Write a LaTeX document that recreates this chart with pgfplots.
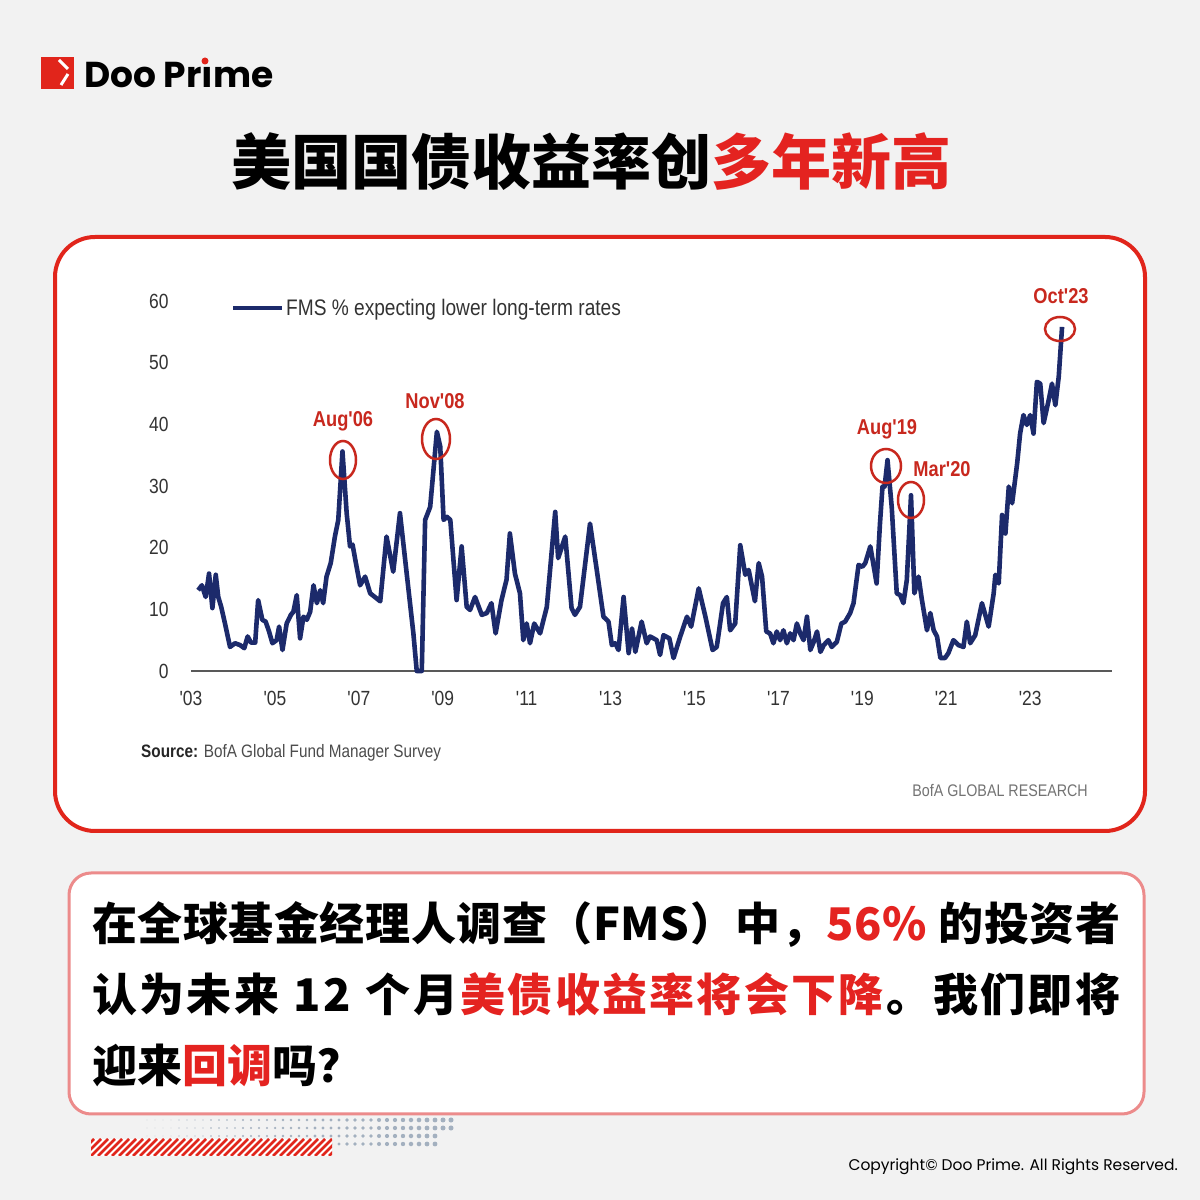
\documentclass[border=0pt]{standalone}
\usepackage{pgfplots}
\pgfplotsset{compat=1.18}
\usepackage{fontspec}
\setmainfont{Liberation Sans}
\newfontfamily\cjk{Noto Sans CJK SC}
\newfontfamily\narrow{Liberation Sans}[FakeStretch=0.85]
\newfontfamily\pop{Poppins}
\definecolor{bg}{HTML}{F2F2F2}
\definecolor{tred}{HTML}{E42320}
\definecolor{cred}{HTML}{E1251B}
\definecolor{ared}{HTML}{C8281E}
\definecolor{pinkb}{HTML}{EC8B8B}
\definecolor{navy}{HTML}{1C2A6B}
\definecolor{dots}{HTML}{A3B0BF}
\def\sprend{\sprend}
\def\spr#1{\ifx#1\sprend\else#1\hskip0pt plus 1fil\relax\expandafter\spr\fi}
\begin{document}
\begin{tikzpicture}
\begin{scope}[x=1pt,y=1pt]
\useasboundingbox (0,0) rectangle (1200,1200);
\fill[bg] (0,0) rectangle (1200,1200);
% logo
\fill[cred] (41,1111) rectangle (74,1143);
\draw[white, line width=3pt] (59,1140) -- (68,1131);
\draw[white, line width=3pt] (68,1126) -- (61,1115);
\node[anchor=base west, inner sep=0pt] at (84,1112) {\pop\bfseries\fontsize{36}{36}\selectfont Doo Pr\char"0131 me};
% title
\node[anchor=base, inner sep=0pt] at (591,1015) {\cjk\bfseries\fontsize{60}{60}\selectfont 美国国债收益率创\textcolor{tred}{多年新高}};
% chart card
\filldraw[fill=white, draw=cred, line width=4pt, rounded corners=40pt] (55,369) rectangle (1145,963);
\end{scope}
\begin{axis}[
 at={(191pt,529pt)}, anchor=south west,
 width=921pt, height=370pt, scale only axis,
 xmin=2003, xmax=2024.95, ymin=0, ymax=60,
 clip=false,
 axis x line*=bottom, axis y line*=left,
 y axis line style={draw=none},
 x axis line style={draw=black!65, line width=1.6pt},
 major tick length=0pt,
 xtick={2003,2005,...,2023},
 xticklabels={'03,'05,'07,'09,'11,'13,'15,'17,'19,'21,'23},
 ytick={0,10,...,60},
 tick label style={font=\narrow\fontsize{20.5}{21}\selectfont, text=black!80},
 /pgf/number format/assume math mode=true,
 x tick label style={yshift=-17pt},
 y tick label style={xshift=-19pt},
 legend style={at={(0.0434,0.981)}, anchor=west, draw=none, fill=none, inner sep=0pt,
   font=\narrow\fontsize{22.5}{23}\selectfont, text=black!80},
 legend image code/.code={\draw[#1, line width=4pt] (0pt,0pt) -- (49pt,0pt);},
]
\addplot[navy, line width=4.6pt, line join=round] table {
x y
2003.17 13.1
2003.26 13.9
2003.35 12.0
2003.43 15.8
2003.51 10.2
2003.59 15.6
2003.65 12.0
2003.72 10.4
2003.81 7.7
2003.93 3.9
2004.05 4.5
2004.17 4.2
2004.27 3.7
2004.35 5.6
2004.43 4.6
2004.53 4.6
2004.60 11.5
2004.70 8.3
2004.78 8.0
2004.86 6.4
2004.94 4.5
2005.04 5.0
2005.10 7.2
2005.18 3.4
2005.28 7.7
2005.38 9.1
2005.44 9.6
2005.52 12.3
2005.60 5.3
2005.68 8.8
2005.76 8.3
2005.84 9.6
2005.92 13.9
2006.00 11.0
2006.08 13.1
2006.15 11.0
2006.23 15.3
2006.33 17.5
2006.43 21.8
2006.51 24.5
2006.61 35.6
2006.71 25.6
2006.79 20.2
2006.85 20.5
2006.93 17.5
2007.03 13.9
2007.15 15.3
2007.27 12.6
2007.51 11.3
2007.66 21.8
2007.82 16.1
2007.98 25.6
2008.30 6.1
2008.38 0
2008.50 0
2008.58 24.5
2008.70 26.6
2008.86 38.8
2008.94 36.4
2009.02 24.5
2009.10 25.0
2009.18 24.5
2009.33 11.5
2009.45 20.2
2009.57 10.4
2009.65 9.9
2009.77 12.0
2009.93 9.1
2010.05 9.4
2010.16 11.0
2010.26 6.1
2010.40 11.5
2010.52 14.8
2010.60 22.3
2010.72 15.8
2010.84 12.6
2010.92 5.0
2011.00 7.7
2011.08 4.5
2011.18 7.7
2011.32 6.1
2011.48 10.4
2011.68 25.8
2011.75 18.3
2011.92 21.8
2012.07 10.2
2012.15 9.1
2012.27 10.4
2012.51 23.9
2012.67 16.4
2012.83 8.8
2012.95 8.0
2013.03 4.2
2013.11 4.5
2013.19 3.4
2013.31 12.0
2013.43 2.9
2013.51 6.9
2013.59 3.1
2013.74 8.0
2013.86 4.5
2013.94 5.6
2014.10 5.0
2014.18 2.6
2014.26 5.8
2014.40 5.3
2014.50 2.1
2014.66 5.6
2014.82 8.8
2014.92 7.2
2015.10 13.4
2015.26 8.8
2015.43 3.4
2015.53 3.9
2015.68 11.0
2015.77 12.0
2015.85 6.6
2015.97 7.7
2016.09 20.4
2016.21 15.6
2016.29 16.4
2016.44 11.3
2016.53 17.5
2016.61 15.3
2016.71 6.4
2016.80 6.1
2016.88 4.5
2016.96 6.4
2017.04 5.0
2017.12 6.6
2017.20 4.5
2017.28 6.1
2017.36 5.0
2017.44 7.7
2017.52 6.1
2017.60 5.0
2017.68 8.8
2017.76 3.4
2017.84 4.7
2017.92 6.4
2018.00 3.1
2018.08 4.2
2018.19 5.0
2018.27 3.9
2018.39 4.7
2018.50 7.7
2018.59 8.0
2018.71 9.4
2018.79 11.0
2018.91 17.2
2019.00 16.9
2019.07 17.5
2019.19 20.2
2019.34 14.2
2019.42 23.9
2019.48 29.9
2019.53 29.9
2019.60 34.2
2019.70 26.6
2019.82 12.6
2019.90 12.3
2019.98 11.0
2020.06 14.8
2020.16 28.5
2020.24 12.6
2020.34 15.3
2020.42 11.5
2020.54 6.6
2020.62 9.4
2020.70 6.6
2020.78 5.6
2020.86 2.1
2020.97 2.1
2021.05 2.9
2021.17 5.0
2021.29 4.2
2021.41 3.9
2021.49 8.0
2021.57 4.5
2021.69 5.8
2021.85 11.0
2022.01 7.2
2022.13 12.6
2022.17 15.6
2022.25 14.2
2022.33 25.3
2022.41 22.3
2022.49 29.9
2022.57 27.2
2022.69 33.7
2022.76 38.5
2022.84 41.5
2022.92 39.9
2023.00 41.5
2023.08 38.5
2023.16 46.9
2023.24 46.6
2023.32 40.2
2023.44 43.9
2023.52 46.6
2023.60 43.1
2023.68 47.7
2023.76 55.8
};
\addlegendentry{FMS \% expecting lower long-term rates}
\end{axis}
\begin{scope}[x=1pt,y=1pt]
% annotations
\draw[ared, line width=2.5pt] (343,740) ellipse [x radius=13, y radius=19];
\draw[ared, line width=2.5pt] (436,761) ellipse [x radius=14, y radius=20];
\draw[ared, line width=2.5pt] (886,734) ellipse [x radius=15, y radius=17];
\draw[ared, line width=2.5pt] (911,700) ellipse [x radius=13, y radius=18];
\draw[ared, line width=2.5pt] (1060,871) ellipse [x radius=15, y radius=12];
\begin{scope}[every node/.style={anchor=base, inner sep=0pt, text=ared, font=\narrow\bfseries\fontsize{21.5}{22}\selectfont}]
\node at (343,773) {Aug'06};
\node at (435,791) {Nov'08};
\node at (887,765) {Aug'19};
\node at (942,723) {Mar'20};
\node at (1061,896) {Oct'23};
\end{scope}
\node[anchor=base west, inner sep=0pt] at (141,442) {\narrow\fontsize{18}{19}\selectfont\color{black!70}\textbf{\color{black!85}Source:} BofA Global Fund Manager Survey};
\node[anchor=base east, inner sep=0pt] at (1088,403) {\narrow\fontsize{16.8}{18}\selectfont\color{black!55}BofA GLOBAL RESEARCH};
% text box
\filldraw[fill=white, draw=pinkb, line width=3pt, rounded corners=22pt] (69,86) rectangle (1144,327);
\begin{scope}[every node/.style={anchor=base west, inner sep=0pt, font=\cjk\bfseries\fontsize{45}{45}\selectfont}]
\node at (92,259) {\makebox[1028pt][s]{\spr 在全球基金经理人调查（FMS）中，\sprend\textcolor{tred}{\spr 56\%\sprend}\spr\ 的投资\sprend 者}};
\node at (92,188) {\makebox[1028pt][s]{\spr 认为未来\ 12\ 个月\sprend\textcolor{tred}{\spr 美债收益率将会下降\sprend}\spr 。我们即\sprend 将}};
\node at (92,117) {迎来\textcolor{tred}{回调}吗？};
\end{scope}
% dots
\foreach \x in {147,155,...,457} {\pgfmathsetmacro\rr{0.3+2.3*(\x-147)/310}\fill[dots] (\x,80) circle (\rr);}
\foreach \x in {147,155,...,457} {\pgfmathsetmacro\rr{0.3+2.3*(\x-147)/310}\fill[dots] (\x,72) circle (\rr);}
\foreach \x in {147,155,...,440} {\pgfmathsetmacro\rr{0.3+2.3*(\x-147)/310}\fill[dots] (\x,64) circle (\rr);}
\foreach \x in {251,259,...,440} {\pgfmathsetmacro\rr{0.3+2.3*(\x-147)/310}\fill[dots] (\x,56) circle (\rr);}
% hatch bar
\begin{scope}
\clip (91,44) rectangle (332,61);
\fill[white] (91,44) rectangle (332,61);
\foreach \x in {70,77,...,340} {\draw[cred, line width=2.5pt] (\x,44) -- (\x+17,61);}
\end{scope}
\node[anchor=base east, inner sep=0pt] at (1178,29) {\pop\fontsize{15.5}{16}\selectfont Copyright\textcopyright{} Doo Prime. All Rights Reserved.};
\fill[cred] (205,1139) circle (3.5);
\end{scope}
\end{tikzpicture}
\end{document}
